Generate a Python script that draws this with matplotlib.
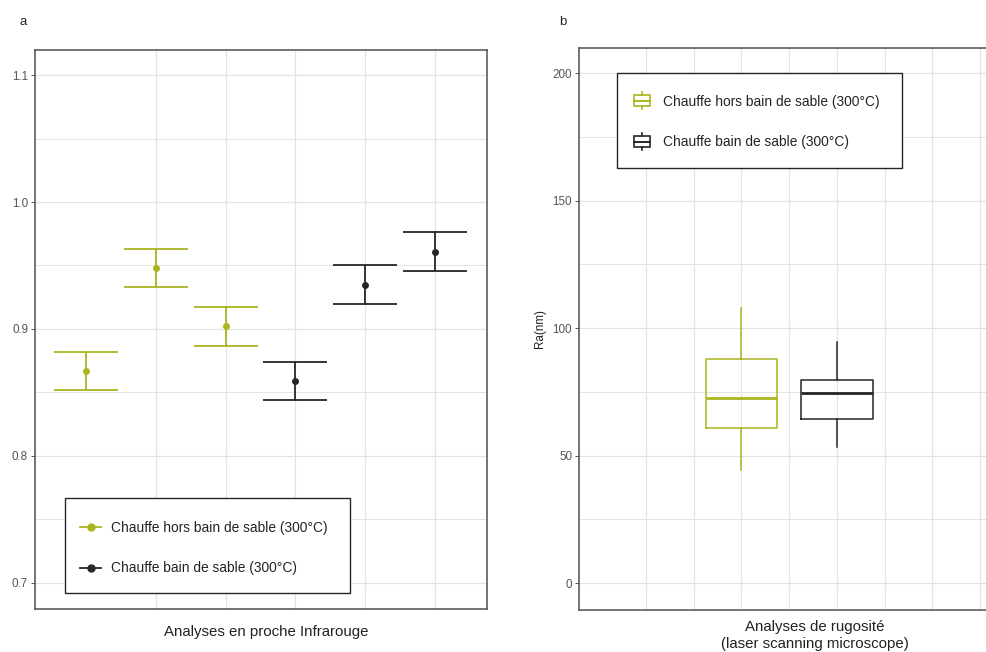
import matplotlib
matplotlib.use("Agg")
import matplotlib.pyplot as plt
from matplotlib.lines import Line2D
from matplotlib.patches import Rectangle
from matplotlib.legend_handler import HandlerBase

plt.rcParams['font.family'] = ['Liberation Sans', 'DejaVu Sans']

# ---------------- data ----------------
# Panel a : near-infrared analyses (mean +/- error)
nir_positions = [1, 2, 3, 4, 5, 6]
nir_groups = ["hors", "hors", "hors", "bain", "bain", "bain"]
nir_means = [0.867, 0.948, 0.902, 0.859, 0.935, 0.961]
nir_err = [0.015, 0.015, 0.015, 0.015, 0.015, 0.015]

# Panel b : roughness Ra (nm) box statistics
ra_positions = [3, 5]
ra_q1 = [60.8, 64.3]
ra_med = [72.5, 74.4]
ra_q3 = [87.8, 79.7]
ra_whislo = [44.4, 53.3]
ra_whishi = [107.8, 94.4]

series_labels = ["Chauffe hors bain de sable (300°C)", "Chauffe bain de sable (300°C)"]
a_yticks = [0.7, 0.8, 0.9, 1.0, 1.1]
b_yticks = [0, 50, 100, 150, 200]

GREEN = "#aab520"
BLACK = "#262626"
GRID = "#e3e3e3"
FRAME = "#505050"
TICKC = "#555555"
TXT = "#222222"

LEG_FS = 9.9
TITLE_FS = 10.8

W, H = 986, 652
fig = plt.figure(figsize=(W / 100, H / 100), dpi=100)
fig.patch.set_facecolor("white")

AX_A = (35, 50, 487, 609)
AX_B = (579, 48, 1031, 610)


def px_axes(box):
    x0, y0, x1, y1 = box
    return fig.add_axes([x0 / W, 1 - y1 / H, (x1 - x0) / W, (y1 - y0) / H])


def to_ax(box, px, py):
    x0, y0, x1, y1 = box
    return (px - x0) / (x1 - x0), (y1 - py) / (y1 - y0)


def style(ax):
    for s in ax.spines.values():
        s.set_color(FRAME)
        s.set_linewidth(1.1)
    ax.tick_params(axis='y', length=3, width=0.7, color=TICKC, labelcolor=TICKC,
                   labelsize=8.4, pad=2)
    ax.tick_params(axis='y', which='minor', length=0)
    ax.tick_params(axis='x', length=0, labelbottom=False)
    ax.set_axisbelow(True)


def legend_frame(ax, box, x0, y0, x1, y1):
    ax0, ay1 = to_ax(box, x0, y1)
    ax1, ay0 = to_ax(box, x1, y0)
    ax.add_patch(Rectangle((ax0, ay1), ax1 - ax0, ay0 - ay1, transform=ax.transAxes,
                           facecolor="white", edgecolor=BLACK, lw=1.0, zorder=5,
                           clip_on=False))


# ---------------- panel a ----------------
axa = px_axes(AX_A)
style(axa)
sp = 69.8
axa.set_xlim(1 - 51 / sp, 6 + 52 / sp)
axa.set_ylim(0.6795, 1.1197)
axa.set_yticks(a_yticks)
axa.set_yticklabels([f"{v:.1f}" for v in a_yticks])
axa.set_yticks([0.75, 0.85, 0.95, 1.05], minor=True)
axa.grid(True, which='major', axis='y', color=GRID, lw=0.9)
axa.grid(True, which='minor', axis='y', color=GRID, lw=0.7)
for xv in nir_positions[1:]:
    axa.axvline(xv, color=GRID, lw=0.9, zorder=0)

for grp, col in (("hors", GREEN), ("bain", BLACK)):
    xs = [x for x, g in zip(nir_positions, nir_groups) if g == grp]
    ys = [m for m, g in zip(nir_means, nir_groups) if g == grp]
    es = [e for e, g in zip(nir_err, nir_groups) if g == grp]
    axa.errorbar(xs, ys, yerr=es, fmt='o', color=col, ms=4.0, elinewidth=1.3,
                 capsize=22.7, capthick=1.3, zorder=3)

legend_frame(axa, AX_A, 65, 498, 350, 593)
handles_a = [Line2D([0], [0], color=GREEN, lw=1.3, marker='o', ms=5),
             Line2D([0], [0], color=BLACK, lw=1.3, marker='o', ms=5)]
lega = axa.legend(handles_a, series_labels, loc='center left',
                  bbox_to_anchor=to_ax(AX_A, 80, 548), frameon=False,
                  prop={'size': LEG_FS}, borderpad=0, labelspacing=1.95,
                  handlelength=1.53, handletextpad=0.73, borderaxespad=0)
lega.set_zorder(6)
for t in lega.get_texts():
    t.set_color(TXT)

axa.text((266 - 35) / 452, -0.028, "Analyses en proche Infrarouge", transform=axa.transAxes,
         ha='center', va='top', fontsize=TITLE_FS, color=TXT)
fig.text(23 / W, 1 - 22 / H, "a", ha='center', va='center', fontsize=9.5, color=TXT)


# ---------------- panel b ----------------
axb = px_axes(AX_B)
style(axb)
sb = 47.7
axb.set_xlim(1 - 67 / sb, 1 + 385 / sb)
axb.set_ylim(-10.5, 209.8)
axb.set_yticks(b_yticks)
axb.set_yticklabels([str(v) for v in b_yticks])
axb.set_yticks([25, 75, 125, 175], minor=True)
axb.grid(True, which='major', axis='y', color=GRID, lw=0.9)
axb.grid(True, which='minor', axis='y', color=GRID, lw=0.7)
for xv in range(1, 10):
    axb.axvline(xv, color=GRID, lw=0.9, zorder=0)

cols_b = [GREEN, BLACK]
for i in range(len(ra_positions)):
    st = [dict(med=ra_med[i], q1=ra_q1[i], q3=ra_q3[i], whislo=ra_whislo[i],
               whishi=ra_whishi[i], fliers=[])]
    c = cols_b[i]
    axb.bxp(st, positions=[ra_positions[i]], widths=1.5, showcaps=False,
            showfliers=False, manage_ticks=False, patch_artist=False,
            boxprops=dict(color=c, lw=1.1), whiskerprops=dict(color=c, lw=1.1),
            medianprops=dict(color=c, lw=2.0))

axb.set_ylabel("Ra(nm)", fontsize=8.4, color=TXT, labelpad=4.5)
axb.text(236 / 452, -0.017, "Analyses de rugosité\n(laser scanning microscope)",
         transform=axb.transAxes, ha='center', va='top', fontsize=TITLE_FS,
         color=TXT, linespacing=1.3)
fig.text(563 / W, 1 - 22 / H, "b", ha='center', va='center', fontsize=9.5, color=TXT)


class BoxHandler(HandlerBase):
    def __init__(self, color):
        super().__init__()
        self.color = color

    def create_artists(self, legend, orig_handle, xdescent, ydescent, width,
                       height, fontsize, trans):
        bw = width * 0.88
        x0 = -xdescent + (width - bw) / 2
        bh = height * 1.15
        y0 = -ydescent + (height - bh) / 2
        xc = x0 + bw / 2
        r = Rectangle((x0, y0), bw, bh, fill=False, edgecolor=self.color, lw=1.2,
                      transform=trans)
        med = Line2D([x0, x0 + bw], [y0 + bh / 2] * 2, color=self.color, lw=1.4,
                     transform=trans)
        w1 = Line2D([xc, xc], [y0 + bh, y0 + bh + height * 0.3], color=self.color,
                    lw=1.2, transform=trans)
        w2 = Line2D([xc, xc], [y0, y0 - height * 0.3], color=self.color, lw=1.2,
                    transform=trans)
        return [r, med, w1, w2]


legend_frame(axb, AX_B, 617, 73, 902, 168)
hb1 = Rectangle((0, 0), 1, 1)
hb2 = Rectangle((0, 0), 1, 1)
legb = axb.legend([hb1, hb2], series_labels, loc='center left',
                  bbox_to_anchor=to_ax(AX_B, 633, 122), frameon=False,
                  prop={'size': LEG_FS}, borderpad=0, labelspacing=1.95,
                  handlelength=1.3, handletextpad=0.9, borderaxespad=0,
                  handler_map={hb1: BoxHandler(GREEN), hb2: BoxHandler(BLACK)})
legb.set_zorder(6)
for t in legb.get_texts():
    t.set_color(TXT)

fig.savefig("out.png", dpi=100, facecolor="white")
